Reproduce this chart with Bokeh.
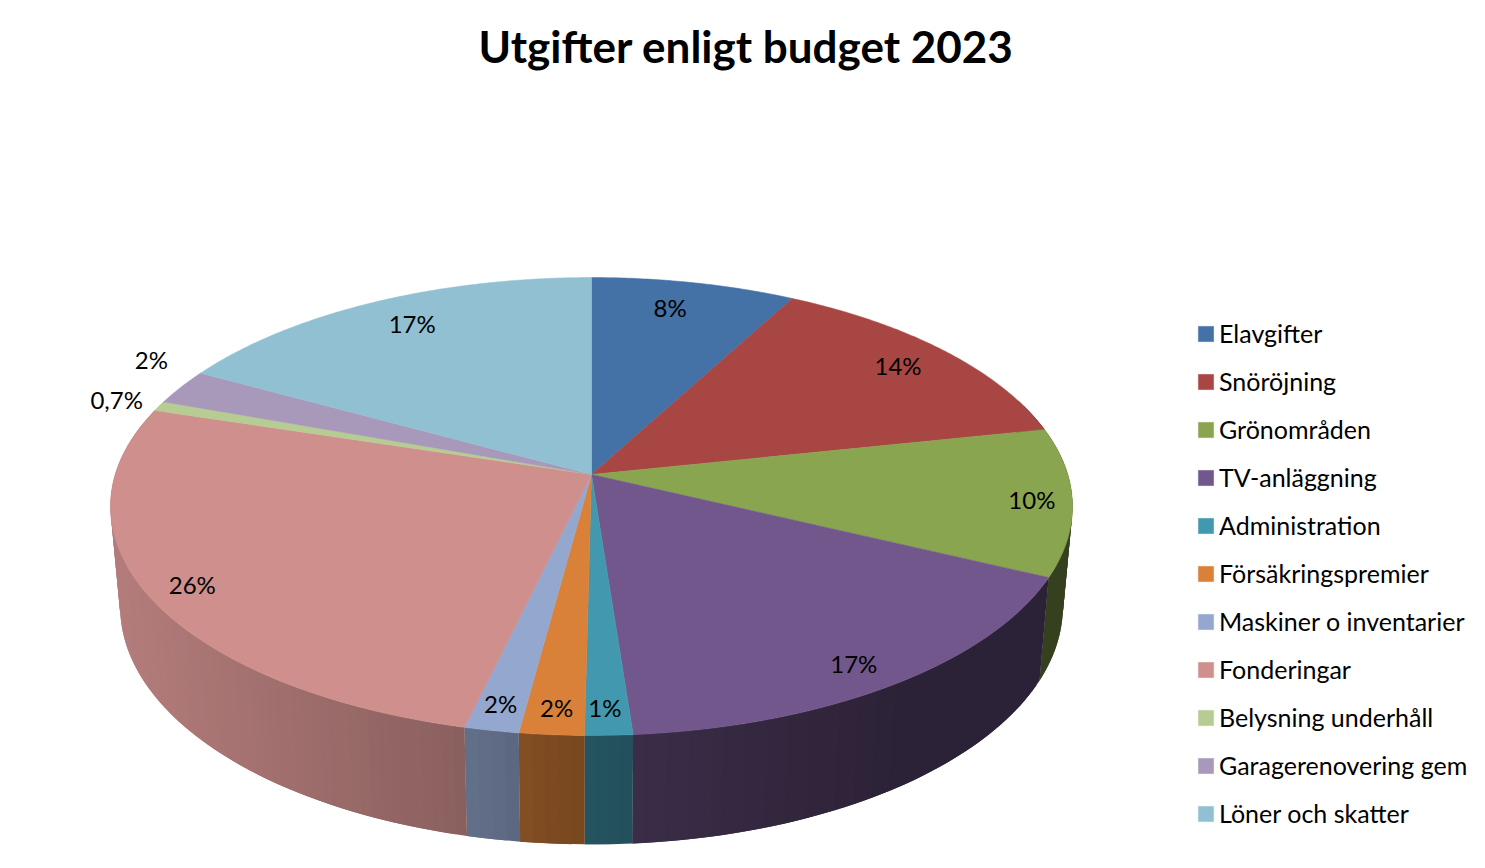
from math import radians, sin, cos
import numpy as np
from bokeh.plotting import figure
from bokeh.models import ColumnDataSource, Legend, LegendItem, Title
from bokeh.core.properties import value
from bokeh.embed import file_html
from bokeh.resources import INLINE

CATEGORIES = ["Elavgifter", "Snöröjning", "Grönområden", "TV-anläggning", "Administration",
              "Försäkringspremier", "Maskiner o inventarier", "Fonderingar", "Belysning underhåll",
              "Garagerenovering gem", "Löner och skatter"]
VALUES = [7.85, 13.85, 10.4, 16.7, 1.4, 1.9, 1.6, 26.1, 0.7, 2.5, 17.0]
LABELS = ["8%", "14%", "10%", "17%", "1%", "2%", "2%", "26%", "0,7%", "2%", "17%"]
COLORS = ["#4471a6", "#a84644", "#8aa550", "#72578c", "#4298af", "#d98138",
          "#94a7cf", "#ce8f8d", "#b6cc93", "#a899bb", "#91c0d2"]

# label placement, as a fraction of the radius and an angular nudge
LABEL_R = [0.84, 0.858, 0.918, 0.906, 0.913, 0.915, 0.915, 0.911, 1.097, 1.131, 0.84]
LABEL_DEG = [-1.4, 0.4, 0.6, 1.4, 0.2, -0.2, 0.0, -1.1, -0.5, 4.3, 1.1]

# perspective of the tilted disc
CX, CY = 591.0, 474.0
A, B, K = 476.3, 224.5, 0.1397
S_X, S_Y, DEPTH = 0.98, 1.038, 99.0
# side-wall brightness as a function of screen x
SHADE_X = [115, 460, 490, 550, 610, 640, 900, 1050]
SHADE_F = [0.87, 0.67, 0.65, 0.57, 0.54, 0.51, 0.39, 0.39]


def project(deg, r=1.0):
    t = radians(deg)
    u, v = r * sin(t), r * cos(t)
    w = 1 + K * v
    return A * u / w, B * v / w


def top(deg, r=1.0):
    x, y = project(deg, r)
    return CX + x, CY - y


def bottom(deg):
    x, y = project(deg)
    return CX + S_X * x, CY - S_Y * y + DEPTH


def shaded(color, x):
    f = float(np.interp(x, SHADE_X, SHADE_F))
    rgb = [int(color[i:i + 2], 16) for i in (1, 3, 5)]
    return "#%02x%02x%02x" % tuple(int(round(c * f)) for c in rgb)


p = figure(width=1469, height=852, x_range=(0, 1469), y_range=(852, 80),
           x_axis_type=None, y_axis_type=None, toolbar_location=None,
           output_backend="svg", min_border_top=80, min_border_left=0,
           min_border_right=0, min_border_bottom=0, outline_line_color=None,
           background_fill_color="white", border_fill_color="white")
p.title = Title(text="Utgifter enligt budget 2023", align="left", offset=478, standoff=17,
                text_font="Lato", text_font_size="44px", text_font_style="bold", text_color="black")

edges = np.concatenate([[0], np.cumsum(VALUES)]) * 3.6

# side wall: brightness strips, each running under the next so no seam shows
xs, ys, cs = [], [], []
for i, col in enumerate(COLORS):
    a0, a1 = max(edges[i], 70.0), min(edges[i + 1], 290.0)
    if a1 <= a0:
        continue
    n = max(1, int((a1 - a0) / 1.2))
    th = np.linspace(a0, a1, n + 1)
    for j in range(n):
        t0, t1 = th[j], th[min(j + 2, n)]
        q = [top(t0), top(t1), bottom(t1), bottom(t0)]
        xs.append([c[0] for c in q])
        ys.append([c[1] for c in q])
        cs.append(shaded(col, 0.5 * (top(th[j])[0] + top(th[j + 1])[0])))
p.patches("xs", "ys", source=ColumnDataSource(dict(xs=xs, ys=ys, c=cs)),
          fill_color="c", line_color=None)

# top faces
items = []
for i, (name, col) in enumerate(zip(CATEGORIES, COLORS)):
    th = np.linspace(edges[i], edges[i + 1], max(3, int(edges[i + 1] - edges[i]) * 2))
    pts = [top(t) for t in th]
    r = p.patch([CX] + [c[0] for c in pts], [CY] + [c[1] for c in pts],
                fill_color=col, line_color=col, line_width=0.5)
    items.append(LegendItem(label=name, renderers=[r]))

# data labels
mid = (edges[:-1] + edges[1:]) / 2
pos = [top(m + d, r) for m, d, r in zip(mid, LABEL_DEG, LABEL_R)]
p.text([c[0] for c in pos], [c[1] for c in pos], text=LABELS, text_align="center",
       text_baseline="middle", text_font=value("Lato"), text_font_size="24px", text_color="black",
       x_offset=-0.5, y_offset=-2)

legend = Legend(items=items, location=(1196, 24), orientation="vertical", spacing=18, padding=0, margin=0,
                glyph_width=19, glyph_height=19, label_standoff=4,
                label_text_font="Lato", label_text_font_size="25px", label_text_color="black",
                border_line_color=None, background_fill_alpha=0)
p.add_layout(legend, "center")

open("out.html", "w").write(file_html(p, INLINE))
